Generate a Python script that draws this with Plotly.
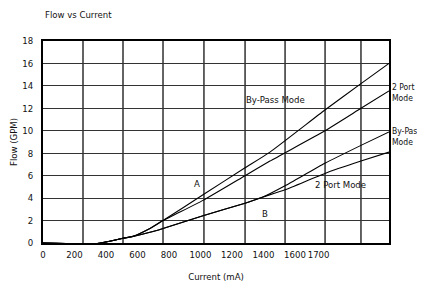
import plotly.graph_objects as go

# Current (mA) sample points and flow (GPM)
x_upper = [0, 343, 508, 571, 679, 762, 1016, 1283, 1441, 1790, 2019, 2197]
bypass_upper = [0, -0.05, 0.42, 0.6, 1.3, 2.0, 4.3, 6.7, 8.1, 11.85, 14.2, 16.0]
port2_upper = [0, -0.05, 0.42, 0.6, 1.3, 2.0, 3.8, 6.0, 7.3, 10.0, 12.0, 13.55]

x_lower = [0, 343, 508, 571, 679, 762, 1016, 1283, 1397, 1537, 1790, 2019, 2197]
bypass_lower = [0, -0.05, 0.42, 0.58, 0.95, 1.3, 2.43, 3.55, 4.1, 5.1, 7.1, 8.7, 9.9]
port2_lower = [0, -0.05, 0.42, 0.58, 0.95, 1.3, 2.43, 3.55, 4.1, 4.75, 6.2, 7.3, 8.1]

x_tick_labels = ["0", "200", "400", "600", "800", "1000", "1200", "1400", "1600", "1700"]
x_tick_pos = [0, 200, 400, 600, 800, 1000, 1200, 1400, 1600, 1750]
x_grid = [254, 508, 762, 1022, 1283, 1537, 1791, 2019]
x_max = 2197
y_ticks = [0, 2, 4, 6, 8, 10, 12, 14, 16, 18]

FONT = "DejaVu Sans Condensed, Liberation Sans Narrow, sans-serif"
FS = 9.5
line = dict(color="black", width=1.1, shape="spline", smoothing=0.5)

fig = go.Figure()
for xs, ys in [(x_upper, bypass_upper), (x_upper, port2_upper),
               (x_lower, bypass_lower), (x_lower, port2_lower)]:
    fig.add_trace(go.Scatter(x=xs, y=ys, mode="lines", line=line, hoverinfo="skip"))

for gx in x_grid:
    fig.add_shape(type="line", xref="x", yref="y", x0=gx, x1=gx, y0=0, y1=18,
                  line=dict(color="#222", width=1.4), layer="below")

ann_font = dict(family=FONT, size=FS, color="#111")
side_font = dict(family=FONT, size=8.5, color="#111")
annotations = [
    dict(x=0, y=1 + 26/202, xref="paper", yref="paper", text="Flow vs Current", showarrow=False,
         xanchor="left", yanchor="middle", font=ann_font),
    dict(x=1479, y=12.75, xref="x", yref="y", text="By-Pass Mode", showarrow=False, font=ann_font),
    dict(x=1886, y=5.17, xref="x", yref="y", text="2 Port Mode", showarrow=False, font=ann_font),
    dict(x=978, y=5.26, xref="x", yref="y", text="A", showarrow=False, font=ann_font),
    dict(x=1410, y=2.67, xref="x", yref="y", text="B", showarrow=False, font=ann_font),
    dict(x=1, y=13.45, xref="paper", yref="y", text="2 Port<br>Mode", showarrow=False,
         xanchor="left", align="left", xshift=1, font=side_font),
    dict(x=1, y=9.5, xref="paper", yref="y", text="By-Pass<br>Mode", showarrow=False,
         xanchor="left", align="left", xshift=1, font=side_font),
]

# the page body adds an 8px margin, so the figure is sized/offset to compensate
fig.update_layout(
    width=425, height=276,
    margin=dict(l=35, r=44, t=33, b=41, autoexpand=False),
    paper_bgcolor="white", plot_bgcolor="white",
    showlegend=False,
    font=dict(family=FONT, size=FS, color="#111"),
    annotations=annotations,
    xaxis=dict(range=[0, x_max], tickvals=x_tick_pos, ticktext=x_tick_labels, tickangle=0,
               showgrid=False, zeroline=False, showline=True, mirror=True, automargin=False,
               linecolor="black", linewidth=1.5, ticks="", ticklabelstandoff=2,
               title=dict(text="Current (mA)", standoff=14, font=dict(family=FONT, size=FS))),
    yaxis=dict(range=[0, 18], tickvals=y_ticks, showgrid=True, gridcolor="#333", gridwidth=1.4,
               zeroline=False, showline=True, mirror=True, linecolor="black", linewidth=2,
               ticks="", ticklabelstandoff=6, automargin=False,
               title=dict(text="Flow (GPM)", standoff=8, font=dict(family=FONT, size=FS))),
)

fig.write_html("out.html")
